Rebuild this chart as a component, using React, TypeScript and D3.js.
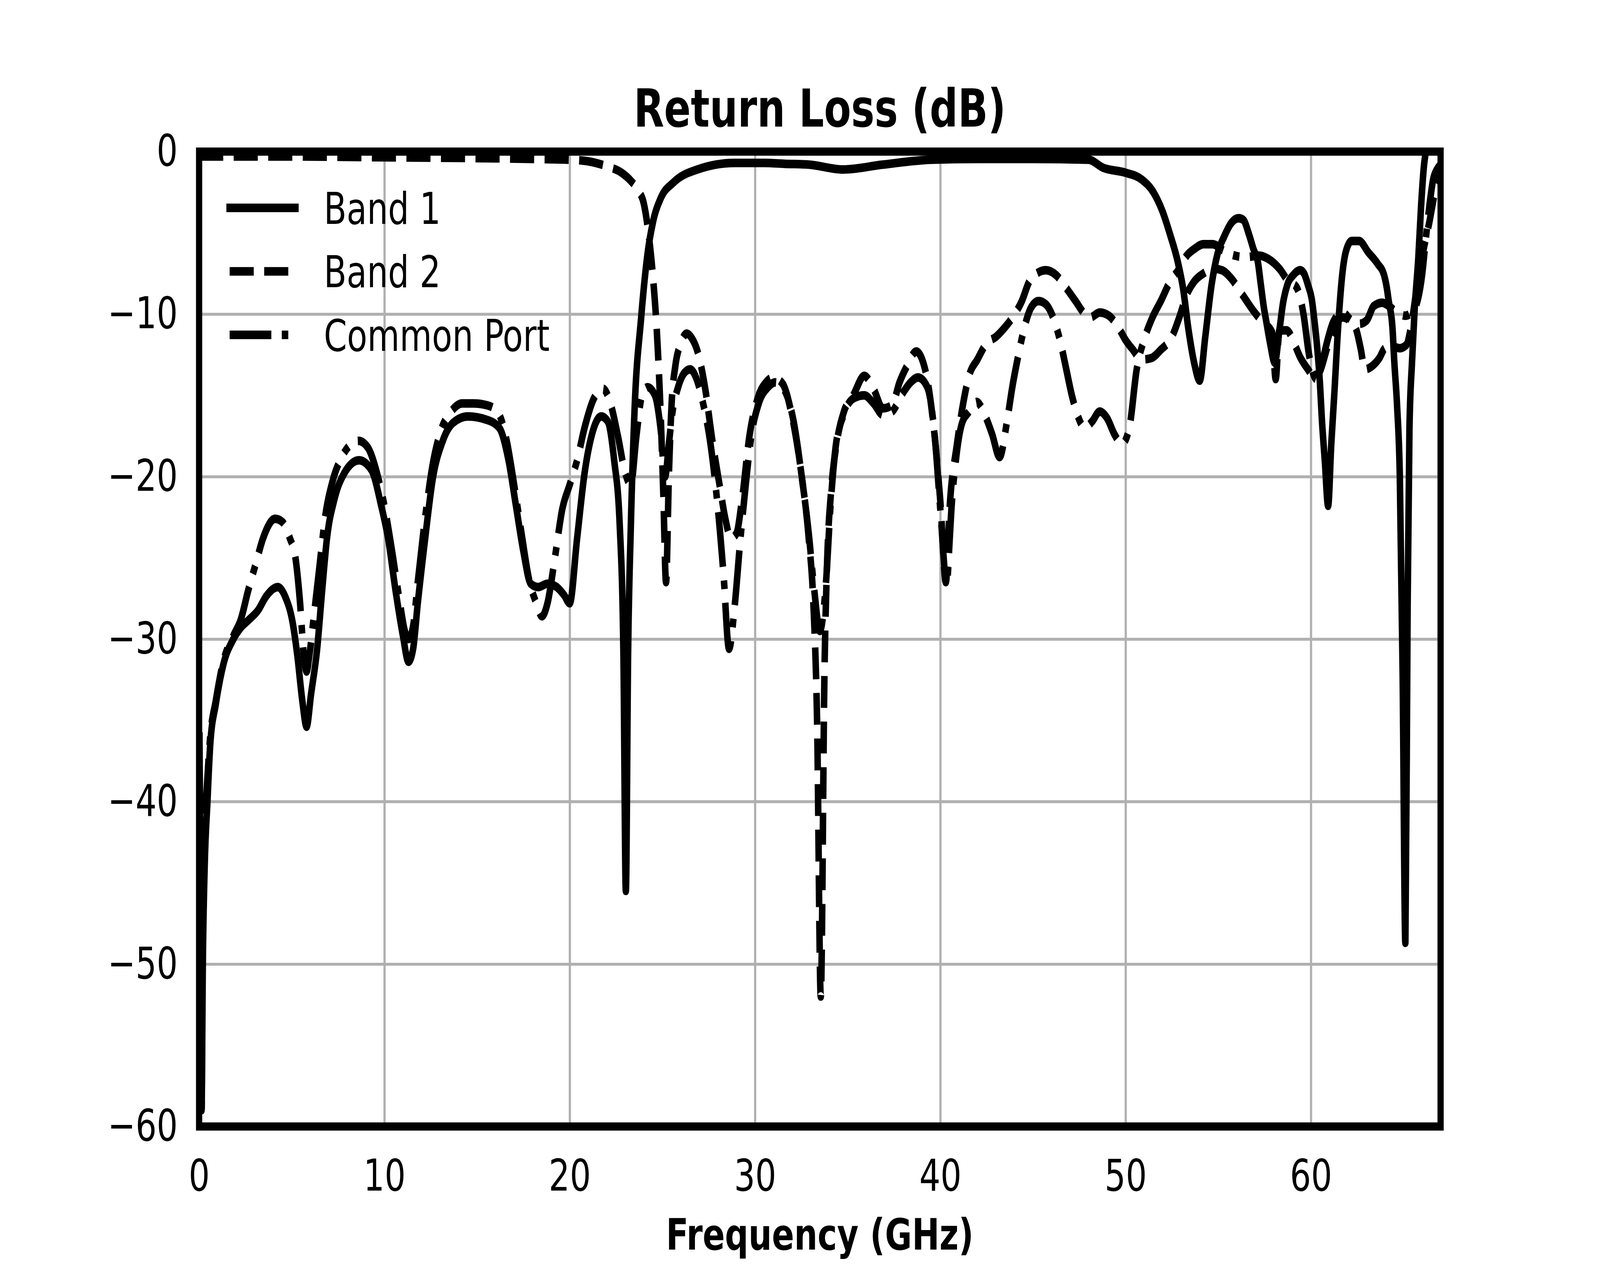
import { useEffect, useRef } from "react";
import * as d3 from "d3";

type Pt = [number, number]; // [GHz, dB]

const SERIES_NAMES = ["Band 1", "Band 2", "Common Port"];
const X_TICKS = [0, 10, 20, 30, 40, 50, 60];
const Y_TICKS = [-60, -50, -40, -30, -20, -10, 0];

const BAND1: Pt[] = [
  [0.02, -36], [0.08, -46], [0.13, -59], [0.2, -50], [0.3, -44], [0.45, -40], [0.6, -36.5],
  [0.9, -34], [1.3, -31.6], [1.85, -30], [2.25, -29.3], [2.7, -28.8], [3.2, -28.2], [3.6, -27.4],
  [4.25, -26.8], [4.65, -27.4], [5.05, -29], [5.3, -31], [5.57, -33.8], [5.8, -35.4], [6.04, -33.4],
  [6.37, -30.6], [6.64, -27], [6.9, -23.8], [7.3, -21.4], [7.83, -19.8], [8.63, -19], [9.3, -19.6],
  [9.83, -21.8], [10.2, -23.8], [10.6, -27], [11.0, -29.8], [11.3, -31.4], [11.55, -30.6],
  [11.8, -27.8], [12.2, -23.8], [12.6, -20.2], [13.15, -17.8], [13.7, -16.7], [14.5, -16.3],
  [15.5, -16.5], [16.2, -17], [16.7, -19], [17.1, -21.8], [17.5, -24.6], [17.9, -26.6],
  [18.3, -26.8], [18.8, -26.6], [19.3, -26.8], [19.7, -27.3], [20.0, -27.8], [20.4, -23.8],
  [20.8, -19.8], [21.2, -17.4], [21.7, -16.3], [22.05, -16.6], [22.4, -19], [22.7, -23],
  [22.9, -31], [23.03, -45.5], [23.15, -31], [23.3, -23], [23.5, -15.9], [23.85, -10.3],
  [24.2, -6.3], [24.5, -4.3], [24.9, -2.9], [25.6, -1.9], [26.9, -1.1], [28.9, -0.7], [30.5, -0.7],
  [31.6, -0.75], [32.9, -0.8], [34.75, -1.1], [36.9, -0.8], [39.5, -0.5], [42, -0.45], [45, -0.45],
  [48, -0.5], [48.8, -1.0], [50, -1.3], [50.85, -1.7], [51.5, -2.5], [52, -3.7], [52.4, -5.1],
  [52.8, -6.7], [53.1, -8.4], [53.4, -11], [53.7, -13], [54.0, -14.1], [54.3, -11.4], [54.64, -8.2],
  [54.96, -6.3], [55.33, -5.2], [55.7, -4.4], [56.1, -4.1], [56.35, -4.2], [56.66, -5.1], [56.9, -6],
  [57.14, -6.8], [57.3, -8.2], [57.45, -9.5], [57.6, -10.5], [57.8, -11.8], [58.05, -13],
  [58.3, -11], [58.5, -9.3], [58.73, -8.2], [59.05, -7.6], [59.42, -7.3], [59.63, -7.5],
  [59.84, -8.2], [60.05, -9.1], [60.2, -10.5], [60.32, -11.8], [60.48, -14.1], [60.6, -16.6],
  [60.75, -19], [60.93, -21.8], [61.1, -18], [61.26, -15], [61.47, -10.8], [61.69, -7.6],
  [61.9, -6.1], [62.2, -5.5], [62.6, -5.5], [63.1, -6.2], [63.6, -6.9], [63.95, -7.6], [64.1, -8.4],
  [64.2, -9.2], [64.4, -10.8], [64.5, -12.9], [64.65, -15.6], [64.8, -20], [64.95, -32],
  [65.1, -48.7], [65.22, -28], [65.32, -17], [65.46, -12.9], [65.6, -9.7], [65.8, -6.5],
  [65.95, -3.3], [66.1, -0.9], [66.2, 0], [66.4, 2],
];

const BAND2: Pt[] = [
  [0, -0.3], [5, -0.3], [10, -0.35], [15, -0.4], [18, -0.45], [20, -0.5], [21, -0.6], [22, -0.9],
  [22.8, -1.3], [23.3, -1.8], [23.7, -2.4], [24.0, -3.2], [24.25, -5.0], [24.5, -7.8], [24.7, -11],
  [24.9, -15.9], [25.05, -21], [25.2, -26.5], [25.35, -20], [25.5, -15.5], [25.7, -13.2],
  [26.0, -11.8], [26.3, -11.2], [26.6, -11.5], [26.9, -12.3], [27.3, -14.5], [27.7, -17.8],
  [28.1, -20.6], [28.4, -22.6], [28.7, -23.8], [29.0, -23.5], [29.3, -21.4], [29.7, -17.5],
  [30.2, -15], [30.6, -14.2], [31.0, -13.9], [31.5, -14.3], [32.0, -16.3], [32.5, -19.8],
  [32.9, -23.8], [33.15, -27.8], [33.35, -35], [33.55, -52], [33.75, -32], [33.9, -25],
  [34.1, -21], [34.4, -18], [34.8, -16], [35.3, -15], [35.9, -13.8], [36.4, -14.6], [36.9, -15.8],
  [37.4, -15.6], [37.8, -14.2], [38.2, -13.2], [38.7, -12.3], [39.2, -13.5], [39.6, -16.5],
  [40.0, -21.5], [40.3, -26.5], [40.5, -22], [40.9, -18], [41.25, -15.4], [41.55, -13.8],
  [42.0, -12.8], [42.5, -11.8], [43.0, -11.4], [43.5, -10.8], [43.9, -10.2], [44.4, -9.2],
  [44.8, -8], [45.2, -7.5], [45.7, -7.3], [46.25, -7.6], [46.8, -8.4], [47.3, -9.2], [47.8, -10],
  [48.1, -10.2], [48.6, -9.9], [49.1, -10.1], [49.6, -10.8], [50.0, -11.6], [50.4, -12.2],
  [50.85, -12.8], [51.4, -12.7], [51.9, -12.2], [52.5, -11.4], [52.9, -10.2], [53.3, -8.8],
  [53.7, -8], [54.2, -7.5], [54.7, -7.2], [55.2, -7.3], [55.7, -7.8], [56.3, -8.8], [56.9, -9.8],
  [57.4, -10.5], [57.9, -11.1], [58.1, -14], [58.3, -11], [58.7, -11], [59.1, -11.8],
  [59.4, -12.6], [59.9, -13.5], [60.2, -14], [60.5, -13.5], [60.9, -12], [61.3, -10.8],
  [61.7, -10.2], [62.1, -10.4], [62.4, -10.8], [62.7, -12.2], [62.9, -13.4], [63.3, -13.2],
  [63.7, -12.7], [64.0, -12.1], [64.4, -12], [64.8, -12.1], [65.15, -11.9], [65.4, -10.8],
  [65.7, -8.5], [66.0, -6.5], [66.4, -4.3], [66.7, -2.5], [67, -1.5],
];

const COMMON: Pt[] = [
  [0.02, -38], [0.08, -48], [0.13, -59], [0.2, -47], [0.3, -42], [0.45, -38.5], [0.6, -36],
  [0.9, -33.8], [1.3, -31.4], [1.85, -29.8], [2.25, -28.8], [2.65, -27], [3.05, -25.4],
  [3.45, -23.8], [4.1, -22.6], [4.5, -22.8], [4.9, -23.8], [5.2, -25], [5.45, -27.8], [5.65, -31],
  [5.8, -32], [5.95, -31], [6.2, -28.5], [6.5, -25.5], [6.8, -22.5], [7.2, -20.3], [7.7, -18.8],
  [8.2, -18], [8.6, -17.8], [9.1, -18.2], [9.6, -19.8], [10.0, -21.8], [10.4, -24.5], [10.8, -27.5],
  [11.1, -29.5], [11.3, -30], [11.55, -29.2], [11.8, -26.5], [12.2, -22.5], [12.6, -19.3],
  [13.1, -17], [13.6, -16], [14.2, -15.5], [14.8, -15.5], [15.5, -15.6], [16.1, -16], [16.6, -17.8],
  [17.0, -20.5], [17.4, -23.5], [17.8, -26.3], [18.2, -27.8], [18.5, -28.6], [18.8, -27.8],
  [19.2, -25], [19.6, -22], [20.0, -20.5], [20.4, -19], [20.8, -17], [21.3, -15.2], [21.8, -14.6],
  [22.2, -15.5], [22.6, -17.5], [23.0, -19.8], [23.3, -20.5], [23.6, -17.5], [23.9, -15],
  [24.2, -14.5], [24.6, -15], [24.9, -17], [25.15, -20], [25.35, -18], [25.55, -16], [25.85, -14.5],
  [26.2, -13.6], [26.5, -13.4], [26.85, -14], [27.2, -15.5], [27.6, -18], [28.0, -22], [28.3, -26],
  [28.6, -30.6], [28.9, -28], [29.2, -24], [29.5, -20.5], [29.8, -17.5], [30.2, -15.5],
  [30.7, -14.5], [31.1, -14.2], [31.6, -14.7], [32.1, -16.7], [32.5, -19.8], [32.9, -23.5],
  [33.2, -27], [33.5, -29.5], [33.8, -27], [34.1, -21.4], [34.35, -18.2], [34.75, -16.3],
  [35.3, -15.2], [35.9, -15], [36.4, -15.5], [36.9, -16.2], [37.4, -16], [37.9, -15], [38.4, -14.2],
  [38.8, -13.9], [39.3, -14.5], [39.7, -17.5], [40.0, -22], [40.35, -26.6], [40.5, -24],
  [40.6, -22], [40.84, -19], [41.15, -16.8], [41.55, -16], [41.96, -15.4], [42.4, -16.2],
  [42.8, -17.4], [43.2, -18.8], [43.6, -16.6], [43.9, -14.4], [44.2, -12.6], [44.5, -11],
  [44.9, -9.6], [45.3, -9.2], [45.7, -9.4], [46.15, -10.4], [46.5, -11.8], [46.8, -13.4],
  [47.1, -15], [47.4, -16.2], [47.8, -17], [48.2, -16.6], [48.6, -16], [49.0, -16.4], [49.4, -17.4],
  [49.8, -18], [50.2, -17], [50.6, -13.4], [51.05, -11.4], [51.45, -10.2], [51.9, -9.2],
  [52.4, -8], [52.9, -7.2], [53.3, -6.4], [53.7, -6], [54.2, -5.7], [54.7, -5.7], [55.3, -6.1],
  [55.9, -6.4], [56.5, -6.5], [57.2, -6.4], [57.7, -6.6], [58.3, -7.2], [58.8, -8], [59.2, -8.3],
  [59.6, -10], [59.9, -12.5], [60.3, -14], [60.6, -13], [60.9, -11.6], [61.2, -10.5], [61.7, -9.9],
  [62.2, -10.4], [62.6, -10.6], [63.0, -10.4], [63.4, -9.5], [63.85, -9.3], [64.2, -9.5],
  [64.65, -9.9], [65.1, -10.1], [65.5, -9.8], [65.7, -9.4], [66.0, -7.6], [66.2, -5.4],
  [66.4, -3.3], [66.6, -1.7], [66.8, -1.1], [67, -0.8],
];

const WIDTH = 5400;
const HEIGHT = 3240;
const FONT = "DejaVu Sans";
const LW = 22;
const DASHES = ["none", `${3.7 * LW},${1.6 * LW}`, `${6.4 * LW},${1.6 * LW},${LW},${1.6 * LW}`];

export default function App() {
  const ref = useRef<SVGSVGElement>(null);

  useEffect(() => {
    if (!ref.current) return;
    const el = ref.current;
    d3.select(el).selectAll("*").remove();

    const margin = { top: 388, right: WIDTH - 4862, bottom: HEIGHT - 2883, left: 672 };
    const innerWidth = WIDTH - margin.left - margin.right;
    const innerHeight = HEIGHT - margin.top - margin.bottom;

    const x = d3.scaleLinear().domain([0, 67]).range([0, innerWidth]);
    const y = d3.scaleLinear().domain([-60, 0]).range([innerHeight, 0]);

    const svg = d3.select(el);
    svg.append("rect").attr("width", WIDTH).attr("height", HEIGHT).attr("fill", "white");

    const g = svg.append("g").attr("transform", `translate(${margin.left},${margin.top})`);

    g.append("defs")
      .append("clipPath")
      .attr("id", "plot-clip")
      .append("rect")
      .attr("width", innerWidth)
      .attr("height", innerHeight);

    // grid
    g.append("g")
      .call(d3.axisBottom(x).tickValues(X_TICKS).tickSize(innerHeight).tickFormat(() => ""))
      .call((s) => s.select(".domain").remove())
      .selectAll("line")
      .attr("stroke", "#b0b0b0")
      .attr("stroke-width", 7.5);
    g.append("g")
      .call(d3.axisLeft(y).tickValues(Y_TICKS).tickSize(-innerWidth).tickFormat(() => ""))
      .call((s) => s.select(".domain").remove())
      .selectAll("line")
      .attr("stroke", "#b0b0b0")
      .attr("stroke-width", 7.5);

    // curves
    const line = d3
      .line<Pt>()
      .x((d) => x(d[0]))
      .y((d) => y(d[1]))
      .curve(d3.curveMonotoneX);

    const series = [BAND1, BAND2, COMMON];
    g.append("g")
      .attr("clip-path", "url(#plot-clip)")
      .selectAll("path")
      .data(series)
      .join("path")
      .attr("d", (d) => line(d))
      .attr("fill", "none")
      .attr("stroke", "#000")
      .attr("stroke-width", LW)
      .attr("stroke-linejoin", "round")
      .attr("stroke-linecap", (_, i) => (i === 0 ? "square" : "butt"))
      .attr("stroke-dasharray", (_, i) => DASHES[i]);

    // axes labels
    const xAxis = g
      .append("g")
      .attr("transform", `translate(0,${innerHeight})`)
      .call(d3.axisBottom(x).tickValues(X_TICKS).tickSize(0).tickPadding(84).tickFormat((v) => String(v)));
    xAxis.select(".domain").remove();
    xAxis.selectAll("text").attr("font-family", FONT).attr("font-size", 112).attr("fill", "#000");

    const yAxis = g
      .append("g")
      .call(
        d3.axisLeft(y)
          .tickValues(Y_TICKS)
          .tickSize(0)
          .tickPadding(72)
          .tickFormat((v) => {
            const n = Number(v);
            return n < 0 ? `\u2212${Math.abs(n)}` : String(n);
          })
      );
    yAxis.select(".domain").remove();
    yAxis.selectAll("text").attr("font-family", FONT).attr("font-size", 112).attr("fill", "#000");

    // frame
    g.append("rect")
      .attr("width", innerWidth)
      .attr("height", innerHeight)
      .attr("fill", "none")
      .attr("stroke", "#000")
      .attr("stroke-width", 21);

    // title and x label
    svg.append("text")
      .attr("x", margin.left + innerWidth / 2)
      .attr("y", 324)
      .attr("text-anchor", "middle")
      .attr("font-family", FONT)
      .attr("font-weight", "bold")
      .attr("font-size", 133)
      .text("Return Loss (dB)");

    svg.append("text")
      .attr("x", margin.left + innerWidth / 2)
      .attr("y", 3198)
      .attr("text-anchor", "middle")
      .attr("font-family", FONT)
      .attr("font-weight", "bold")
      .attr("font-size", 111)
      .text("Frequency (GHz)");

    // legend, no frame
    const legend = svg.append("g");
    SERIES_NAMES.forEach((name, i) => {
      const ly = 532 + i * 162.5;
      legend.append("line")
        .attr("x1", 775)
        .attr("x2", 997)
        .attr("y1", ly)
        .attr("y2", ly)
        .attr("stroke", "#000")
        .attr("stroke-width", LW)
        .attr("stroke-linecap", i === 0 ? "square" : "butt")
        .attr("stroke-dasharray", DASHES[i]);
      legend.append("text")
        .attr("x", 1093)
        .attr("y", ly + 41)
        .attr("font-family", FONT)
        .attr("font-size", 112)
        .text(name);
    });
  }, []);

  // the viewBox is stretched over the whole window so the frame matches the reference
  return (
    <svg
      ref={ref}
      viewBox={`0 0 ${WIDTH} ${HEIGHT}`}
      preserveAspectRatio="none"
      style={{ position: "absolute", left: 0, top: 0, width: "100vw", height: "100vh", display: "block" }}
    />
  );
}
